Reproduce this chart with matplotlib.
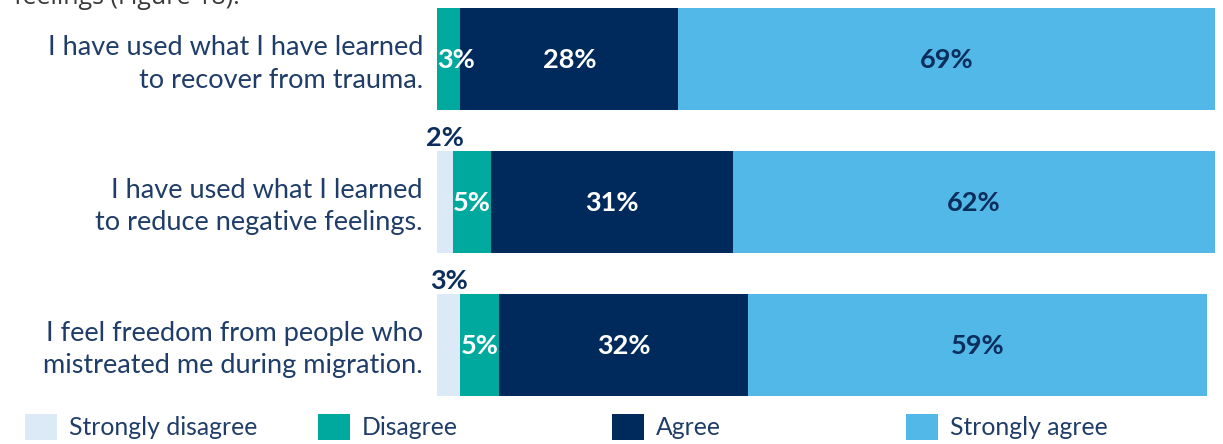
import matplotlib
matplotlib.use("Agg")
import matplotlib.pyplot as plt
import numpy as np

plt.rcParams['font.family'] = ['Lato', 'DejaVu Sans']

statements = [
    "I have used what I have learned\nto recover from trauma.",
    "I have used what I learned\nto reduce negative feelings.",
    "I feel freedom from people who\nmistreated me during migration.",
]
responses = ["Strongly disagree", "Disagree", "Agree", "Strongly agree"]
strongly_disagree = [0, 2, 3]
disagree = [3, 5, 5]
agree = [28, 31, 32]
strongly_agree = [69, 62, 59]

colors = ["#dce9f7", "#00a99d", "#002a5c", "#52b8e8"]
value_colors = ["#0b2e5c", "white", "white", "#0b2e5c"]
label_color = "#1f3d68"

W, H = 1223, 444
fig = plt.figure(figsize=(W / 100, H / 100), dpi=100)
fig.patch.set_facecolor("white")

# Axes occupy the bar area horizontally and the full height vertically
ax = fig.add_axes([437 / W, 0, 778 / W, 1])
unit = 142.75  # pixels between bar centres
ax.set_xlim(0, 100)
ax.set_ylim((H - 59) / unit, -59 / unit)
ax.axis("off")

bar_h = 102 / unit
series = [strongly_disagree, disagree, agree, strongly_agree]
ypos = np.arange(len(statements))
left = np.zeros(len(statements))
containers = []
vfs = 19.5
for name, vals, col, tcol in zip(responses, series, colors, value_colors):
    vals = np.array(vals, dtype=float)
    bc = ax.barh(ypos, vals, left=left, height=bar_h, color=col,
                 edgecolor="none", label=name)
    containers.append(bc)
    for i, v in enumerate(vals):
        if v <= 0:
            continue
        txt = f"{int(v)}%"
        if name == "Strongly disagree":
            # tiny segment: value sits above the bar
            ax.text(left[i] + v / 2, i - bar_h / 2 - 0.035, txt,
                    ha="center", va="baseline", fontsize=vfs,
                    fontweight="bold", color="#0b2e5c")
        elif v < 8:
            ax.text(left[i] + 0.05, i + 0.01, txt, ha="left", va="center",
                    fontsize=vfs, fontweight="bold", color=tcol)
        else:
            ax.text(left[i] + v / 2, i + 0.01, txt, ha="center", va="center",
                    fontsize=vfs, fontweight="bold", color=tcol)
    left += vals

for i, s in enumerate(statements):
    ax.text(-1.8, i + 0.035, s, ha="right", va="center", fontsize=19.5,
            color=label_color, linespacing=1.37)

# Legend entries, evenly spaced along the bottom
legend_x = [25, 318, 612, 906]
for bc, name, x in zip(containers, responses, legend_x):
    lg = fig.legend(handles=[bc], labels=[name], loc="center left",
                    bbox_to_anchor=(x / W, 1 - 427 / H), frameon=False,
                    fontsize=17.8, handlelength=1.3, handleheight=1.3,
                    handletextpad=0.48, borderpad=0, borderaxespad=0,
                    labelcolor=label_color)

# Tail of the preceding sentence, cut by the top edge
fig.text(240 / W, 1 - 4 / H, "feelings (Figure 18).", ha="right",
         va="baseline", fontsize=18, color="#3a3a3a",
         family=["Open Sans", "DejaVu Sans"])

fig.savefig("out.png", dpi=100, facecolor="white")
